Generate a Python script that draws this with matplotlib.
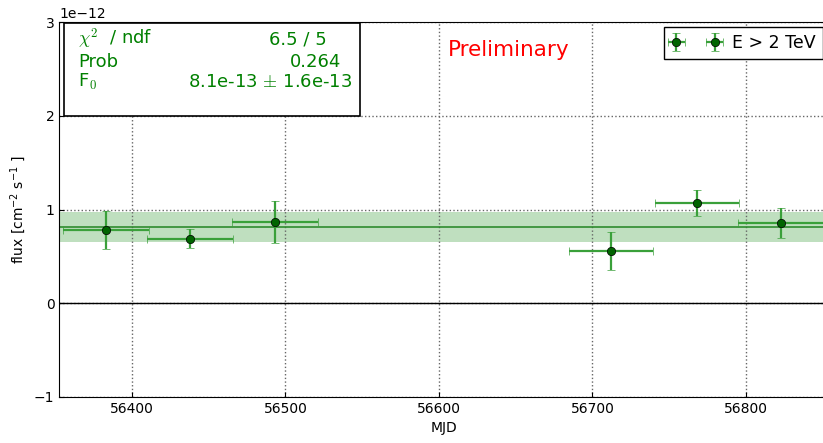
import matplotlib
matplotlib.use("Agg")
import matplotlib.pyplot as plt

# light curve points, flux in cm^-2 s^-1
mjd = [56383, 56438, 56493, 56712, 56768, 56823]
mjd_err = [28, 28, 28, 27.5, 27.5, 28]
flux = [7.8e-13, 6.9e-13, 8.65e-13, 5.55e-13, 1.07e-12, 8.6e-13]
flux_err = [2.0e-13, 1.05e-13, 2.25e-13, 2.05e-13, 1.4e-13, 1.6e-13]

f0 = 8.1e-13
f0_err = 1.6e-13
label = "E > 2 TeV"

fig = plt.figure(figsize=(8.23, 4.43), dpi=100)
ax = fig.add_axes([0.072, 0.104, 0.935, 0.846])

ax.axhspan(f0 - f0_err, f0 + f0_err, color="green", alpha=0.25, lw=0)
ax.axhline(f0, color="#2e8b2e", lw=1.2)
ax.axhline(0, color="black", lw=1)

ax.errorbar(mjd, flux, xerr=mjd_err, yerr=flux_err, fmt="o", color="darkgreen",
            ecolor="#3aa03a", elinewidth=1.6, capsize=3, capthick=1.2,
            markersize=6, markeredgecolor="black", markeredgewidth=0.5, label=label)

ax.set_xlim(56352.6, 56854)
ax.set_ylim(-1e-12, 3e-12)
ax.set_yticks([-1e-12, 0, 1e-12, 2e-12, 3e-12])
ax.grid(True, linestyle=":", color="0.4", lw=1)
ax.tick_params(labelsize=10, direction="in")
ax.yaxis.get_offset_text().set_fontsize(10)

ax.set_xlabel("MJD", fontsize=10)
ax.set_ylabel(r"flux [cm$^{-2}$ s$^{-1}$ ]", fontsize=10)

ax.legend(loc="upper right", numpoints=2, fontsize=12.5, fancybox=False,
          edgecolor="black", framealpha=1, bbox_to_anchor=(0.992, 0.987),
          borderaxespad=0, handletextpad=0.7, borderpad=0.4, handlelength=2.8)

# fit statistics box
box = plt.Rectangle((0.006, 0.75), 0.385, 0.247, transform=ax.transAxes,
                    facecolor="white", edgecolor="black", lw=1.2, zorder=5)
ax.add_patch(box)
tk = dict(transform=ax.transAxes, fontsize=13, color="green", zorder=6, va="center")
ax.text(0.025, 0.955, r"$\chi^{2}$  / ndf", math_fontfamily="cm", **tk)
ax.text(0.025, 0.895, "Prob", **tk)
ax.text(0.025, 0.84, r"F$_{0}$", math_fontfamily="cm", **tk)
ax.text(0.347, 0.955, "6.5 / 5", ha="right", **tk)
ax.text(0.366, 0.895, "0.264", ha="right", **tk)
ax.text(0.381, 0.84, r"8.1e-13 $\pm$ 1.6e-13", ha="right", math_fontfamily="cm", **tk)

ax.text(0.584, 0.925, "Preliminary", transform=ax.transAxes, color="red",
        fontsize=15.5, ha="center", va="center")

fig.savefig("out.png", dpi=100)
